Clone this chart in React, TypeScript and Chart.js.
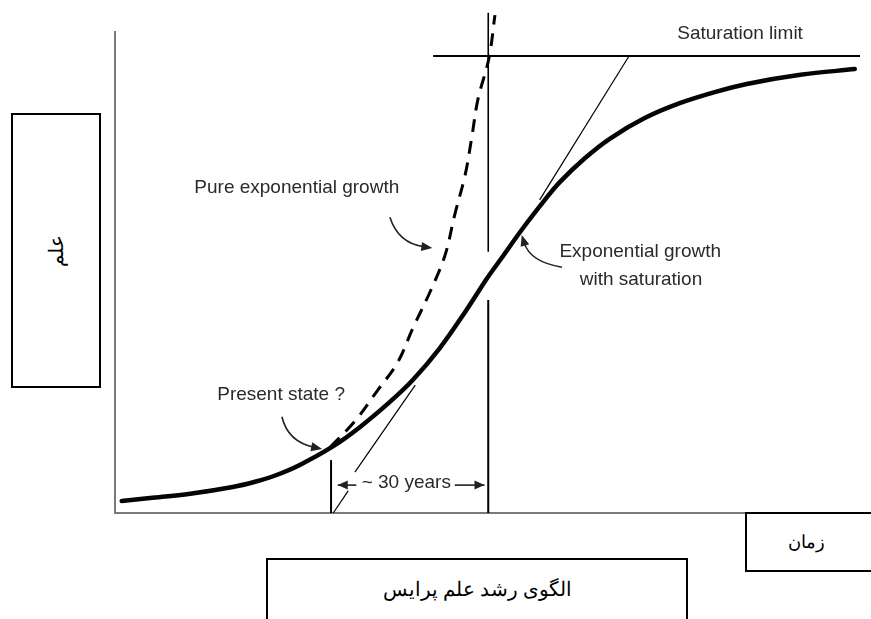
import React, { useEffect, useRef } from "react";
import { Chart, registerables } from "chart.js";

Chart.register(...registerables);

// ---- data (time 0..100 along x-axis, level 0..100 up the y-axis) ----
const growthTime = [0.9, 4.7, 10.1, 15.8, 18.8, 21.5, 24.8, 29.3, 32.9, 36.9, 40.0, 43.6, 47.0, 49.9, 51.7, 54.8, 57.7, 59.7, 63.1, 66.4, 71.1, 75.8, 80.5, 84.8, 92.0, 99.3];
const growthLevel = [2.5, 3.1, 4.0, 5.4, 6.5, 7.8, 10.0, 13.9, 17.9, 23.1, 27.7, 34.3, 41.8, 48.7, 52.6, 59.3, 65.1, 68.8, 73.8, 77.8, 82.1, 85.2, 87.5, 89.2, 91.1, 92.3];

const exponentialTime = [28.9, 32.2, 35.2, 37.9, 40.0, 42.3, 44.3, 45.6, 47.0, 47.9, 48.7, 50.2, 51.0];
const exponentialLevel = [13.7, 19.1, 25.4, 31.2, 38.5, 46.0, 53.6, 62.0, 70.3, 78.2, 85.9, 94.6, 103.5];

const saturationTime = [42.7, 100];
const saturationLevel = [95.0, 95.0];

const midlineTopTime = [50.1, 50.1];
const midlineTopLevel = [104.0, 54.3];
const midlineBottomTime = [50.1, 50.1];
const midlineBottomLevel = [44.3, 0];

const upperTangentTime = [69.0, 57.0];
const upperTangentLevel = [95.0, 65.1];

const lowerTangentATime = [29.3, 31.3];
const lowerTangentALevel = [0, 4.6];
const lowerTangentBTime = [32.2, 40.3];
const lowerTangentBLevel = [8.5, 26.6];

const presentTime = [29.0, 29.0];
const presentLevel = [0, 11.0];

const spanLeftTime = [29.9, 32.4];
const spanRightTime = [45.6, 49.6];
const spanLevel = [5.8, 5.8];

const notesText = ["Saturation limit", "Pure exponential growth", "Exponential growth", "with saturation", "Present state ?", "~ 30 years"];
const notesTime = [83.9, 24.4, 70.5, 70.6, 22.3, 39.1];
const notesLevel = [99.6, 67.6, 54.3, 48.4, 24.5, 6.2];

// curved arrows: start, control, end (tip)
const arrowsStart = [[36.9, 61.5], [60.0, 51.1], [22.4, 20.0]];
const arrowsControl = [[38.0, 56.1], [55.7, 52.2], [23.2, 14.8]];
const arrowsEnd = [[42.6, 55.1], [54.6, 57.8], [27.8, 13.3]];

const pts = (xs: number[], ys: number[]) => xs.map((x, i) => ({ x, y: ys[i] }));

function head(ctx: CanvasRenderingContext2D, x: number, y: number, ang: number, len = 11, half = 4.5) {
  ctx.beginPath();
  ctx.moveTo(x, y);
  ctx.lineTo(x - len * Math.cos(ang) + half * Math.sin(ang), y - len * Math.sin(ang) - half * Math.cos(ang));
  ctx.lineTo(x - len * Math.cos(ang) - half * Math.sin(ang), y - len * Math.sin(ang) + half * Math.cos(ang));
  ctx.closePath();
  ctx.fill();
}

const notesPlugin = {
  id: "notes",
  afterDatasetsDraw(chart: any) {
    const { ctx, scales } = chart;
    const X = (v: number) => scales.x.getPixelForValue(v);
    const Y = (v: number) => scales.y.getPixelForValue(v);
    ctx.save();
    ctx.fillStyle = "#2a2a2a";
    ctx.font = '19px "Liberation Sans", Arial, sans-serif';
    ctx.textAlign = "center";
    ctx.textBaseline = "middle";
    notesText.forEach((t, i) => ctx.fillText(t, X(notesTime[i]), Y(notesLevel[i])));

    ctx.strokeStyle = "#222";
    ctx.fillStyle = "#222";
    ctx.lineWidth = 1.6;
    arrowsStart.forEach((s, i) => {
      const c = arrowsControl[i];
      const e = arrowsEnd[i];
      const sx = X(s[0]), sy = Y(s[1]), cx = X(c[0]), cy = Y(c[1]), ex = X(e[0]), ey = Y(e[1]);
      const ang = Math.atan2(ey - cy, ex - cx);
      ctx.beginPath();
      ctx.moveTo(sx, sy);
      ctx.quadraticCurveTo(cx, cy, ex - 8 * Math.cos(ang), ey - 8 * Math.sin(ang));
      ctx.stroke();
      head(ctx, ex, ey, ang);
    });

    head(ctx, X(spanLeftTime[0]), Y(spanLevel[0]), Math.PI, 10, 4.5);
    head(ctx, X(spanRightTime[1]), Y(spanLevel[1]), 0, 10, 4.5);
    ctx.restore();
  },
};

function line(data: { x: number; y: number }[], width: number, extra: any = {}) {
  return {
    data,
    borderColor: "#000",
    borderWidth: width,
    pointRadius: 0,
    tension: 0,
    fill: false,
    clip: false,
    ...extra,
  };
}

export default function App() {
  const ref = useRef<HTMLCanvasElement>(null);
  useEffect(() => {
    if (!ref.current) return;
    const chart = new Chart(ref.current, {
      type: "line",
      data: {
        datasets: [
          line(pts(growthTime, growthLevel), 4.5, { tension: 0.35, borderColor: "#050505", borderJoinStyle: "round", borderCapStyle: "round" }),
          line(pts(exponentialTime, exponentialLevel), 3, { tension: 0.35, borderDash: [13, 9] }),
          line(pts(saturationTime, saturationLevel), 2),
          line(pts(midlineTopTime, midlineTopLevel), 1.6),
          line(pts(midlineBottomTime, midlineBottomLevel), 2),
          line(pts(upperTangentTime, upperTangentLevel), 1.2),
          line(pts(lowerTangentATime, lowerTangentALevel), 1.2),
          line(pts(lowerTangentBTime, lowerTangentBLevel), 1.2),
          line(pts(presentTime, presentLevel), 2),
          line(pts(spanLeftTime, spanLevel), 1.4),
          line(pts(spanRightTime, spanLevel), 1.4),
        ] as any,
      },
      options: {
        animation: false,
        responsive: false,
        devicePixelRatio: 1,
        layout: { padding: { left: 115, top: 32, right: 11, bottom: 106 } },
        plugins: { legend: { display: false }, tooltip: { enabled: false } },
        events: [],
        scales: {
          x: {
            type: "linear",
            min: 0,
            max: 100,
            grid: { display: false, drawTicks: false },
            ticks: { display: false },
            border: { display: true, color: "#7a7a7a", width: 2 },
          },
          y: {
            type: "linear",
            min: 0,
            max: 100,
            grid: { display: false, drawTicks: false },
            ticks: { display: false },
            border: { display: true, color: "#7a7a7a", width: 2 },
          },
        },
      },
      plugins: [notesPlugin],
    });
    return () => chart.destroy();
  }, []);

  const box: React.CSSProperties = {
    position: "absolute",
    boxSizing: "border-box",
    border: "2px solid #000",
    background: "#fff",
    display: "flex",
    alignItems: "center",
    justifyContent: "center",
    color: "#000",
  };

  return (
    <div style={{ position: "fixed", left: 0, top: 0, width: 871, height: 619, background: "#fff", overflow: "hidden" }}>
      <canvas ref={ref} width={871} height={619} style={{ position: "absolute", left: 0, top: 0 }} />
      <div style={{ ...box, left: 11, top: 113, width: 90, height: 275 }}>
        <div style={{ transform: "rotate(-90deg)", fontSize: 20, fontFamily: "serif" }} dir="rtl">علم</div>
      </div>
      <div style={{ ...box, left: 745, top: 512, width: 140, height: 60, paddingRight: 18, fontSize: 18, fontFamily: "serif" }} dir="rtl">
        زمان
      </div>
      <div style={{ ...box, left: 266, top: 558, width: 422, height: 90, alignItems: "flex-start", paddingTop: 17, fontSize: 20, fontFamily: "serif" }} dir="rtl">
        الگوی رشد علم پرایس
      </div>
    </div>
  );
}
